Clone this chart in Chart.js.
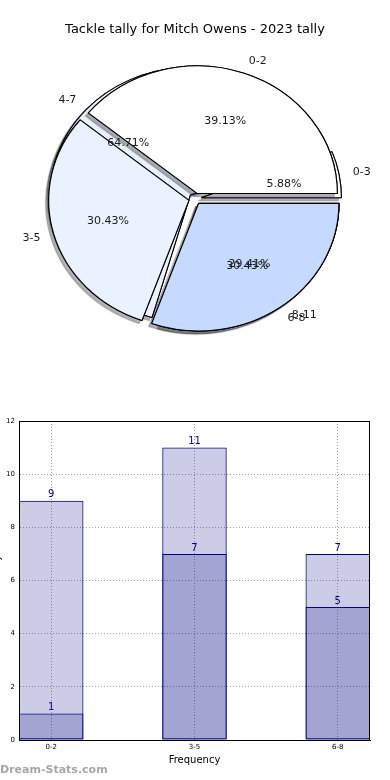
<!DOCTYPE html>
<html>
<head>
<meta charset="utf-8">
<title>Tackle tally for Mitch Owens</title>
<script src="https://cdn.jsdelivr.net/npm/chart.js@4.4.0/dist/chart.umd.min.js"></script>
<style>
  html, body { margin: 0; padding: 0; background: #fff; }
  #wrap { position: relative; width: 390px; height: 780px; overflow: hidden; }
  canvas { position: absolute; left: 0; }
  #pieB, #pieA { top: 0; }
  #bars { top: 400px; }
</style>
</head>
<body>
<div id="wrap">
  <canvas id="pieB" width="390" height="360"></canvas>
  <canvas id="pieA" width="390" height="360"></canvas>
  <canvas id="bars" width="390" height="380"></canvas>
</div>
<script>
// data
const categories = ['0-2', '3-5', '6-8'];
const tally2023 = [9, 7, 7];
const otherLabels = ['0-3', '4-7', '8-11'];
const otherTally = [1, 11, 5];
const yTicks = [0, 2, 4, 6, 8, 10, 12];

const sliceColors = ['#ffffff', '#ebf2ff', '#c6d9ff'];
const NAVY = '#000080';
const BAR_FILL = 'rgba(0,0,128,0.2)';

Chart.defaults.font.family = "'DejaVu Sans', sans-serif";

// matplotlib pie here is a little wider than tall, and exploded
const SX = 1.1;
const EXPLODE = 5.7;

// draw the arcs ourselves so each one can be pushed out and get a shadow
const explodePie = {
  id: 'explodePie',
  beforeDatasetsDraw(chart) {
    const ctx = chart.ctx;
    const arcs = chart.getDatasetMeta(0).data;
    if (!arcs.length) return false;
    const cx = arcs[0].x, cy = arcs[0].y;
    ctx.save();
    ctx.translate(cx, cy);
    ctx.scale(SX, 1);
    ctx.translate(-cx, -cy);
    [true, false].forEach(shadow => {
      arcs.forEach(arc => {
        const mid = (arc.startAngle + arc.endAngle) / 2;
        ctx.save();
        if (shadow) {
          ctx.shadowColor = 'rgba(0,0,0,0.3)';
          ctx.shadowOffsetX = -3;
          ctx.shadowOffsetY = 3;
          ctx.shadowBlur = 1;
        }
        ctx.translate(Math.cos(mid) * EXPLODE, Math.sin(mid) * EXPLODE);
        arc.draw(ctx);
        ctx.restore();
      });
    });
    ctx.restore();
    return false;
  }
};

// labels and percentages of both pies, drawn on the top canvas
const pieText = {
  id: 'pieText',
  afterDraw(chart) {
    const ctx = chart.ctx;
    ctx.save();
    ctx.font = "11px 'DejaVu Sans', sans-serif";
    ctx.fillStyle = '#1a1a1a';
    ctx.textBaseline = 'middle';
    [pieB, chart].forEach(c => {
      const arcs = c.getDatasetMeta(0).data;
      const vals = c.data.datasets[0].data;
      const total = vals.reduce((a, b) => a + b, 0);
      arcs.forEach((arc, i) => {
        const mid = (arc.startAngle + arc.endAngle) / 2;
        const r = arc.outerRadius;
        const at = k => [arc.x + SX * Math.cos(mid) * (EXPLODE + k * r),
                         arc.y + Math.sin(mid) * (EXPLODE + k * r)];
        let p = at(1.1);
        ctx.textAlign = Math.cos(mid) > 0 ? 'left' : 'right';
        ctx.fillText(c.data.labels[i], p[0], p[1]);
        p = at(0.6);
        ctx.textAlign = 'center';
        ctx.fillText((vals[i] / total * 100).toFixed(2) + '%', p[0], p[1]);
      });
    });
    ctx.restore();
  }
};

// matplotlib goes anticlockwise from 3 o'clock, chart.js clockwise: reverse
function makePie(id, labels, values, titleColor, plugins) {
  return new Chart(document.getElementById(id), {
    type: 'pie',
    data: {
      labels: labels.slice().reverse(),
      datasets: [{
        data: values.slice().reverse(),
        backgroundColor: sliceColors.slice().reverse(),
        borderColor: '#000',
        borderWidth: 1
      }]
    },
    options: {
      responsive: false,
      animation: false,
      events: [],
      rotation: 90,
      radius: 127.5,
      plugins: {
        legend: { display: false },
        tooltip: { enabled: false },
        title: {
          display: true,
          text: 'Tackle tally for Mitch Owens - 2023 tally',
          color: titleColor,
          font: { size: 13, weight: 'normal' },
          padding: { top: 22, bottom: 0 }
        }
      }
    },
    plugins: plugins
  });
}

const pieB = makePie('pieB', otherLabels, otherTally, 'rgba(0,0,0,0)', [explodePie]);
const pieA = makePie('pieA', categories, tally2023, '#000', [explodePie, pieText]);

// bar chart
const frame = {
  id: 'frame',
  afterDatasetsDraw(chart) {
    const { ctx, chartArea: a } = chart;
    ctx.save();
    ctx.strokeStyle = '#000';
    ctx.lineWidth = 1;
    ctx.strokeRect(a.left + 0.5, a.top + 0.5, a.right - a.left - 1, a.bottom - a.top);
    ctx.restore();
  }
};

const valueLabels = {
  id: 'valueLabels',
  afterDatasetsDraw(chart) {
    const ctx = chart.ctx;
    ctx.save();
    ctx.font = "10px 'DejaVu Sans', sans-serif";
    ctx.fillStyle = NAVY;
    ctx.textAlign = 'center';
    ctx.textBaseline = 'bottom';
    chart.data.datasets.forEach((ds, d) => {
      chart.getDatasetMeta(d).data.forEach((bar, i) => {
        ctx.fillText(String(ds.data[i].y), bar.x, bar.y - 1);
      });
    });
    ctx.restore();
  }
};

const watermark = {
  id: 'watermark',
  afterDraw(chart) {
    const ctx = chart.ctx;
    ctx.save();
    ctx.font = "bold 11px 'DejaVu Sans', sans-serif";
    ctx.fillStyle = 'rgba(150,150,150,0.85)';
    ctx.textAlign = 'left';
    ctx.textBaseline = 'middle';
    ctx.fillText('Dream-Stats.com', 0, 370);
    ctx.restore();
  }
};

const gridStyle = { color: '#a0a0a0', lineWidth: 1, drawTicks: false, offset: false };
const borderStyle = { color: '#000', dash: [1, 2] };

const barStyle = {
  grouped: false,
  categoryPercentage: 1,
  barPercentage: 0.45,
  backgroundColor: BAR_FILL,
  borderColor: NAVY,
  borderWidth: 1,
  borderSkipped: false
};

new Chart(document.getElementById('bars'), {
  type: 'bar',
  data: {
    datasets: [
      Object.assign({ data: tally2023.map((v, i) => ({ x: i, y: v })) }, barStyle),
      Object.assign({ data: otherTally.map((v, i) => ({ x: i, y: v })) }, barStyle)
    ]
  },
  options: {
    responsive: false,
    animation: false,
    events: [],
    layout: { padding: { top: 21, right: 20, left: 0, bottom: 0 } },
    plugins: {
      legend: { display: false },
      tooltip: { enabled: false }
    },
    scales: {
      x: {
        type: 'linear',
        offset: false,
        min: -0.225,
        max: categories.length - 1 + 0.225,
        afterBuildTicks: s => { s.ticks = categories.map((c, i) => ({ value: i })); },
        afterFit: s => { s.height = 40; },
        ticks: {
          callback: v => categories[v],
          font: { size: 7 },
          color: '#000',
          padding: 3,
          autoSkip: false,
          maxRotation: 0
        },
        grid: gridStyle,
        border: borderStyle,
        title: {
          display: true,
          text: 'Frequency',
          color: '#000',
          font: { size: 10 },
          padding: { top: 0, bottom: 14 }
        }
      },
      y: {
        min: yTicks[0],
        max: yTicks[yTicks.length - 1],
        afterFit: s => { s.width = 19; },
        ticks: {
          stepSize: yTicks[1] - yTicks[0],
          font: { size: 7 },
          color: '#000',
          padding: 4
        },
        grid: gridStyle,
        border: borderStyle,
        title: {
          display: true,
          text: 'Tackle tally',
          color: '#000',
          font: { size: 9 },
          padding: { top: -8, bottom: 0 }
        }
      }
    }
  },
  plugins: [frame, valueLabels, watermark]
});
</script>
</body>
</html>
